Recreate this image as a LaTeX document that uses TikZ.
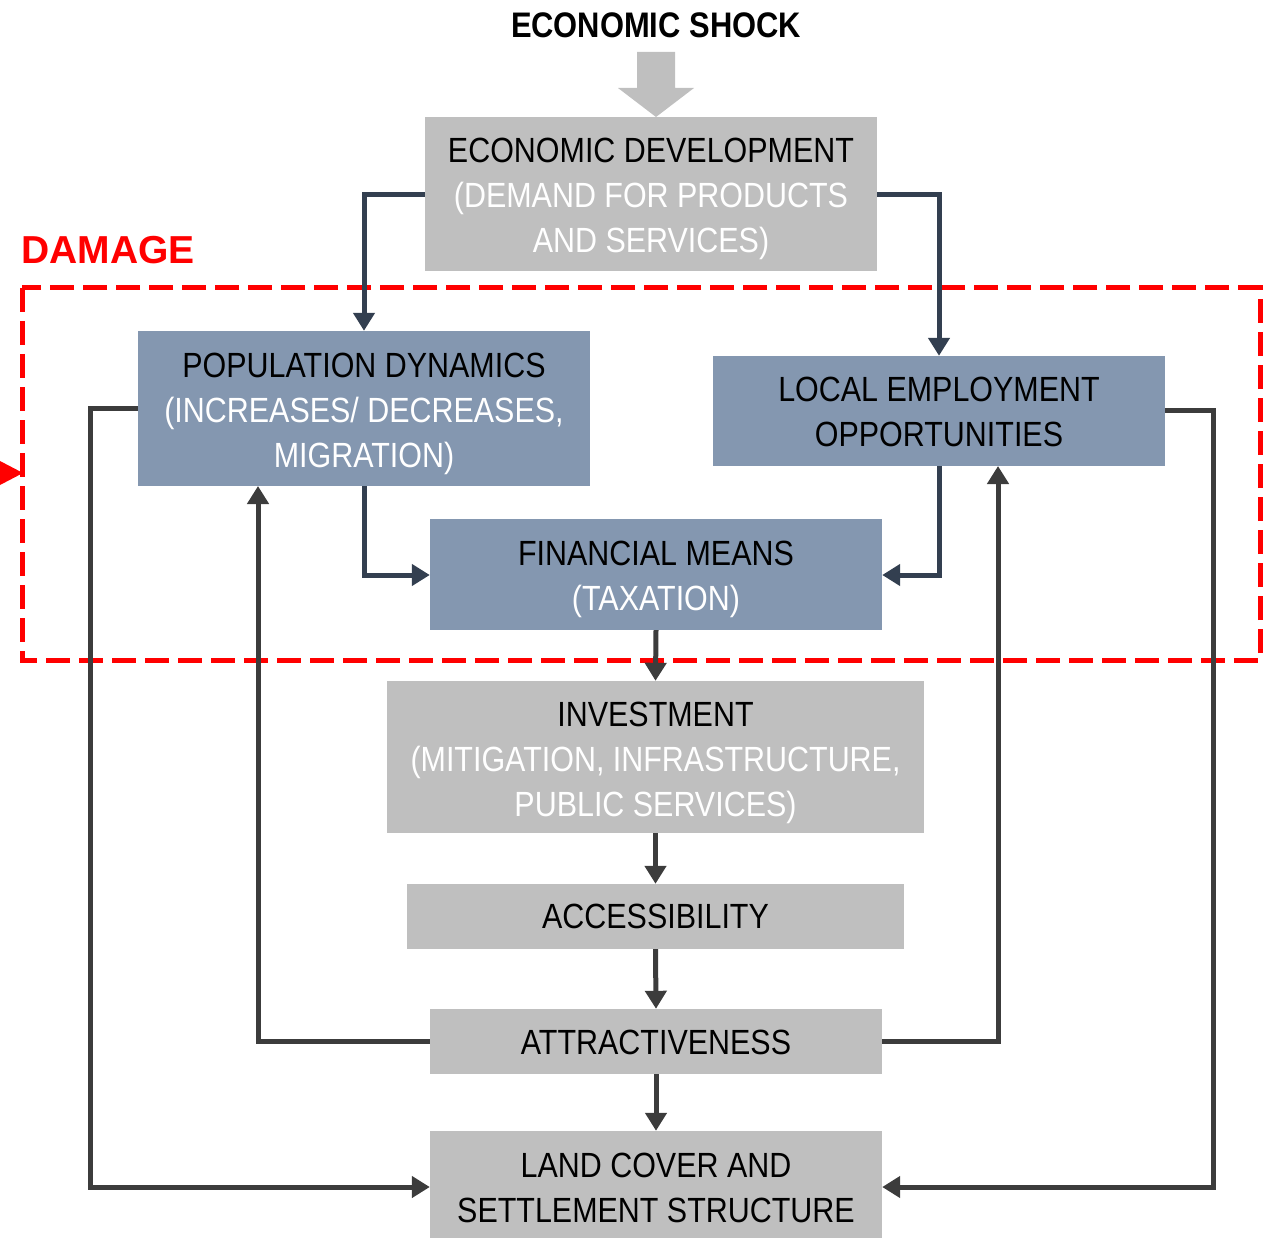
\documentclass[tikz,border=0pt]{standalone}
\usepackage{fontspec}
\setmainfont{Liberation Sans}
\newfontfamily\narrowfont[FakeStretch=0.87]{Liberation Sans}
\usetikzlibrary{arrows.meta}
\definecolor{boxgray}{HTML}{BFBFBF}
\definecolor{boxblue}{HTML}{8497B0}
\definecolor{linkdark}{HTML}{3C3C3C}
\definecolor{linknavy}{HTML}{333F50}
\definecolor{damagered}{HTML}{FF0000}
\begin{document}
\begin{tikzpicture}[x=1pt,y=-1pt,
  box/.style={draw=none, inner sep=0pt},
  graybox/.style={box, fill=boxgray},
  bluebox/.style={box, fill=boxblue},
  boxlabel/.style={inner sep=0pt, align=center,
    font=\narrowfont\fontsize{35}{45}\selectfont, text=black},
  link/.style={draw=linkdark, line width=5pt,
    -{Triangle[length=18pt,width=21pt]}},
  navylink/.style={link, draw=linknavy},
]
\useasboundingbox (0,0) rectangle (1263,1238);

% title and incoming shock arrow
\node[font=\narrowfont\bfseries\fontsize{35.5}{40}\selectfont] (shock) at (656,25) {ECONOMIC SHOCK};
\fill[boxgray] (637,52) -- (675,52) -- (675,88) -- (694,88) -- (656,117) -- (618,88) -- (637,88) -- cycle;

% boxes
\node[graybox, minimum width=452pt, minimum height=154pt] (econ) at (651,194) {};
\node[boxlabel] (econ-t) at ([yshift=-5pt]econ.center)
  {ECONOMIC DEVELOPMENT\\\textcolor{white}{(DEMAND FOR PRODUCTS}\\\textcolor{white}{AND SERVICES)}};

\node[bluebox, minimum width=452pt, minimum height=155pt] (pop) at (364,408.5) {};
\node[boxlabel] (pop-t) at ([yshift=-5pt]pop.center)
  {POPULATION DYNAMICS\\\textcolor{white}{(INCREASES/ DECREASES,}\\\textcolor{white}{MIGRATION)}};

\node[bluebox, minimum width=452pt, minimum height=110pt] (emp) at (939,411) {};
\node[boxlabel] (emp-t) at ([yshift=-1pt]emp.center) {LOCAL EMPLOYMENT\\OPPORTUNITIES};

\node[bluebox, minimum width=452pt, minimum height=111pt] (fin) at (656,574.5) {};
\node[boxlabel] (fin-t) at ([yshift=-5pt]fin.center) {FINANCIAL MEANS\\\textcolor{white}{(TAXATION)}};

\node[graybox, minimum width=537pt, minimum height=152pt] (inv) at (655.5,757) {};
\node[boxlabel] (inv-t) at ([yshift=-6pt]inv.center)
  {INVESTMENT\\\textcolor{white}{(MITIGATION, INFRASTRUCTURE,}\\\textcolor{white}{PUBLIC SERVICES)}};

\node[graybox, minimum width=497pt, minimum height=65pt] (acc) at (655.5,916.5) {};
\node[boxlabel] (acc-t) at (acc.center) {ACCESSIBILITY};

\node[graybox, minimum width=452pt, minimum height=65pt] (attr) at (656,1041.5) {};
\node[boxlabel] (attr-t) at ([yshift=-1pt]attr.center) {ATTRACTIVENESS};

\node[graybox, minimum width=452pt, minimum height=107pt] (land) at (656,1184.5) {};
\node[boxlabel] (land-t) at ([yshift=-3pt]land.center) {LAND COVER AND\\SETTLEMENT STRUCTURE};

% damage zone
\node[anchor=west, text=damagered, font=\bfseries\fontsize{39}{44}\selectfont] (damage) at (18,250) {DAMAGE};
\draw[damagered, line width=5pt, dash pattern=on 24pt off 9pt]
  (22,288) rectangle (1260,660);
\fill[damagered] (0,461) -- (23,473) -- (0,485) -- cycle;

% links from economic development
\draw[navylink] (econ.west |- 0,195) -| (pop.north);
\draw[navylink] (econ.east |- 0,195) -| (emp.north);

% links into financial means
\draw[navylink] (pop.south) |- (fin.west |- 0,575);
\draw[navylink] (emp.south) |- (fin.east |- 0,575);

% vertical chain
\draw[link] (fin.south) -- (inv.north);
\draw[link] (inv.south) -- (acc.north);
\draw[link] (acc.south) -- (attr.north);
\draw[link] (attr.south) -- (land.north);

% feedback from attractiveness
\draw[link] (attr.west) -| (258,486);
\draw[link] (attr.east) -| (998,466);

% outer loops into land cover
\draw[link] (pop.west |- 0,408) -- (90,408) |- (land.west |- 0,1187);
\draw[link] (emp.east |- 0,410) -- (1213,410) |- (land.east |- 0,1187);
\end{tikzpicture}
\end{document}
